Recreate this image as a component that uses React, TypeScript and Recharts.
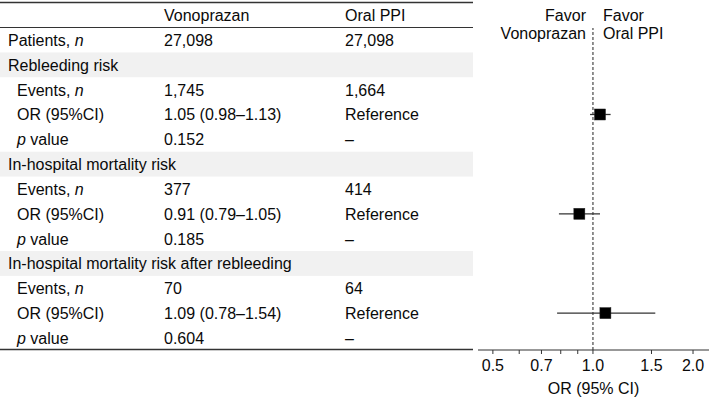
import React from 'react';
import { ScatterChart, Scatter, XAxis, YAxis, ErrorBar, ReferenceLine } from 'recharts';

const columnHeaders = ['Vonoprazan', 'Oral PPI'];
const patientCounts = ['27,098', '27,098'];
const outcomes = ['Rebleeding risk', 'In-hospital mortality risk', 'In-hospital mortality risk after rebleeding'];
const vonoEvents = ['1,745', '377', '70'];
const ppiEvents = ['1,664', '414', '64'];
const orValues = [1.05, 0.91, 1.09];
const ciLow = [0.98, 0.79, 0.78];
const ciHigh = [1.13, 1.05, 1.54];
const pValues = ['0.152', '0.185', '0.604'];
const xTicks = [0.5, 0.6, 0.7, 0.8, 0.9, 1.0, 1.5, 2.0];
const xTickLabels = [0.5, 0.7, 1.0, 1.5, 2.0];
const favorLeft = ['Favor', 'Vonoprazan'];
const favorRight = ['Favor', 'Oral PPI'];

const FONT = '"Liberation Sans", Arial, Helvetica, sans-serif';
const W = 709;
const H = 400;
const ROW0 = 40;
const ROW_H = 24.83;
const PLOT_TOP = 28;
const PLOT_BOTTOM = 350;
const PLOT_LEFT = 478;
const TABLE_RIGHT = 473;
const COL1 = 8;
const COL1_INDENT = 17;
const COL2 = 164;
const COL3 = 345;
const FS = 16;
const TXT = '#0a0a0a';

const rowY = (i: number) => ROW0 + i * ROW_H;

type Row = { label: React.ReactNode; c2: string; c3: string; indent: boolean; band: boolean };
const rows: Row[] = [];
rows.push({ label: <>Patients, <tspan fontStyle="italic">n</tspan></>, c2: patientCounts[0], c3: patientCounts[1], indent: false, band: false });
outcomes.forEach((o, k) => {
  rows.push({ label: o, c2: '', c3: '', indent: false, band: true });
  rows.push({ label: <>Events, <tspan fontStyle="italic">n</tspan></>, c2: vonoEvents[k], c3: ppiEvents[k], indent: true, band: false });
  rows.push({ label: 'OR (95%CI)', c2: `${orValues[k].toFixed(2)} (${ciLow[k].toFixed(2)}\u2013${ciHigh[k].toFixed(2)})`, c3: 'Reference', indent: true, band: false });
  rows.push({ label: <><tspan fontStyle="italic">p</tspan> value</>, c2: pValues[k], c3: '\u2013', indent: true, band: false });
});

const forestData = outcomes.map((o, k) => ({
  name: o,
  row: 3 + k * 4,
  or: orValues[k],
  err: [orValues[k] - ciLow[k], ciHigh[k] - orValues[k]],
}));

const yDomain = [(PLOT_TOP - ROW0) / ROW_H, (PLOT_BOTTOM - ROW0) / ROW_H];

const Table = () => (
  <svg width={W} height={H} style={{ position: 'absolute', left: 0, top: 0 }} fontFamily={FONT} fontSize={FS}>
    {rows.map((r, i) =>
      r.band ? <rect key={'b' + i} x={0} y={rowY(i) - ROW_H / 2} width={TABLE_RIGHT} height={ROW_H} fill="#f1f1f1" /> : null
    )}
    <line x1={0} x2={TABLE_RIGHT} y1={2.5} y2={2.5} stroke="#333" strokeWidth={1.6} />
    <line x1={0} x2={TABLE_RIGHT} y1={27.5} y2={27.5} stroke="#333" strokeWidth={1} />
    <line x1={0} x2={TABLE_RIGHT} y1={349.5} y2={349.5} stroke="#333" strokeWidth={1.6} />
    <text x={COL2} y={15 + 6} fill={TXT}>{columnHeaders[0]}</text>
    <text x={COL3} y={15 + 6} fill={TXT}>{columnHeaders[1]}</text>
    {rows.map((r, i) => (
      <g key={'r' + i}>
        <text x={r.indent ? COL1_INDENT : COL1} y={rowY(i) + 6} fill={TXT}>{r.label}</text>
        {r.c2 ? <text x={COL2} y={rowY(i) + 6} fill={TXT}>{r.c2}</text> : null}
        {r.c3 ? <text x={COL3} y={rowY(i) + 6} fill={TXT}>{r.c3}</text> : null}
      </g>
    ))}
    <text x={586} y={15 + 6} textAnchor="end" fill={TXT}>{favorLeft[0]}</text>
    <text x={586} y={33 + 6} textAnchor="end" fill={TXT}>{favorLeft[1]}</text>
    <text x={603} y={15 + 6} fill={TXT}>{favorRight[0]}</text>
    <text x={603} y={33 + 6} fill={TXT}>{favorRight[1]}</text>
  </svg>
);

const Tick = (props: any) => {
  const { x, y, payload } = props;
  const v = payload.value;
  if (!xTickLabels.some((t) => Math.abs(t - v) < 1e-9)) return <g />;
  return (
    <text x={x} y={y + 15} textAnchor="middle" fontFamily={FONT} fontSize={FS} fill={TXT}>
      {Number(v).toFixed(1)}
    </text>
  );
};

const Square = (props: any) => {
  const { cx, cy } = props;
  const s = 11;
  return <rect x={cx - s / 2} y={cy - s / 2} width={s} height={s} fill="#000" stroke="#222" strokeWidth={0.5} />;
};

export default function App() {
  return (
    <div style={{ position: 'absolute', left: 0, top: 0, width: W, height: H, background: '#fff', fontFamily: FONT }}>
      <Table />
      <div style={{ position: 'absolute', left: 0, top: 0 }}>
        <ScatterChart width={W} height={H} margin={{ top: PLOT_TOP, right: 0, bottom: H - PLOT_BOTTOM - 30, left: PLOT_LEFT }}>
          <XAxis
            dataKey="or"
            type="number"
            scale="log"
            domain={[0.451, 2.234]}
            allowDataOverflow
            ticks={xTicks}
            tick={<Tick />}
            tickSize={4}
            height={30}
            axisLine={{ stroke: '#333', strokeWidth: 1.2 }}
            tickLine={{ stroke: '#333' }}
            interval={0}
            label={{ value: 'OR (95% CI)', position: 'bottom', offset: 3, fontFamily: FONT, fontSize: FS, fill: TXT }}
          />
          <YAxis dataKey="row" type="number" domain={yDomain} reversed hide allowDataOverflow />
          <ReferenceLine x={1} stroke="#222" strokeDasharray="3 2" strokeWidth={1} />
          <Scatter data={forestData} shape={<Square />} isAnimationActive={false}>
            <ErrorBar dataKey="err" direction="x" width={0} stroke="#333" strokeWidth={1.3} />
          </Scatter>
        </ScatterChart>
      </div>
    </div>
  );
}
